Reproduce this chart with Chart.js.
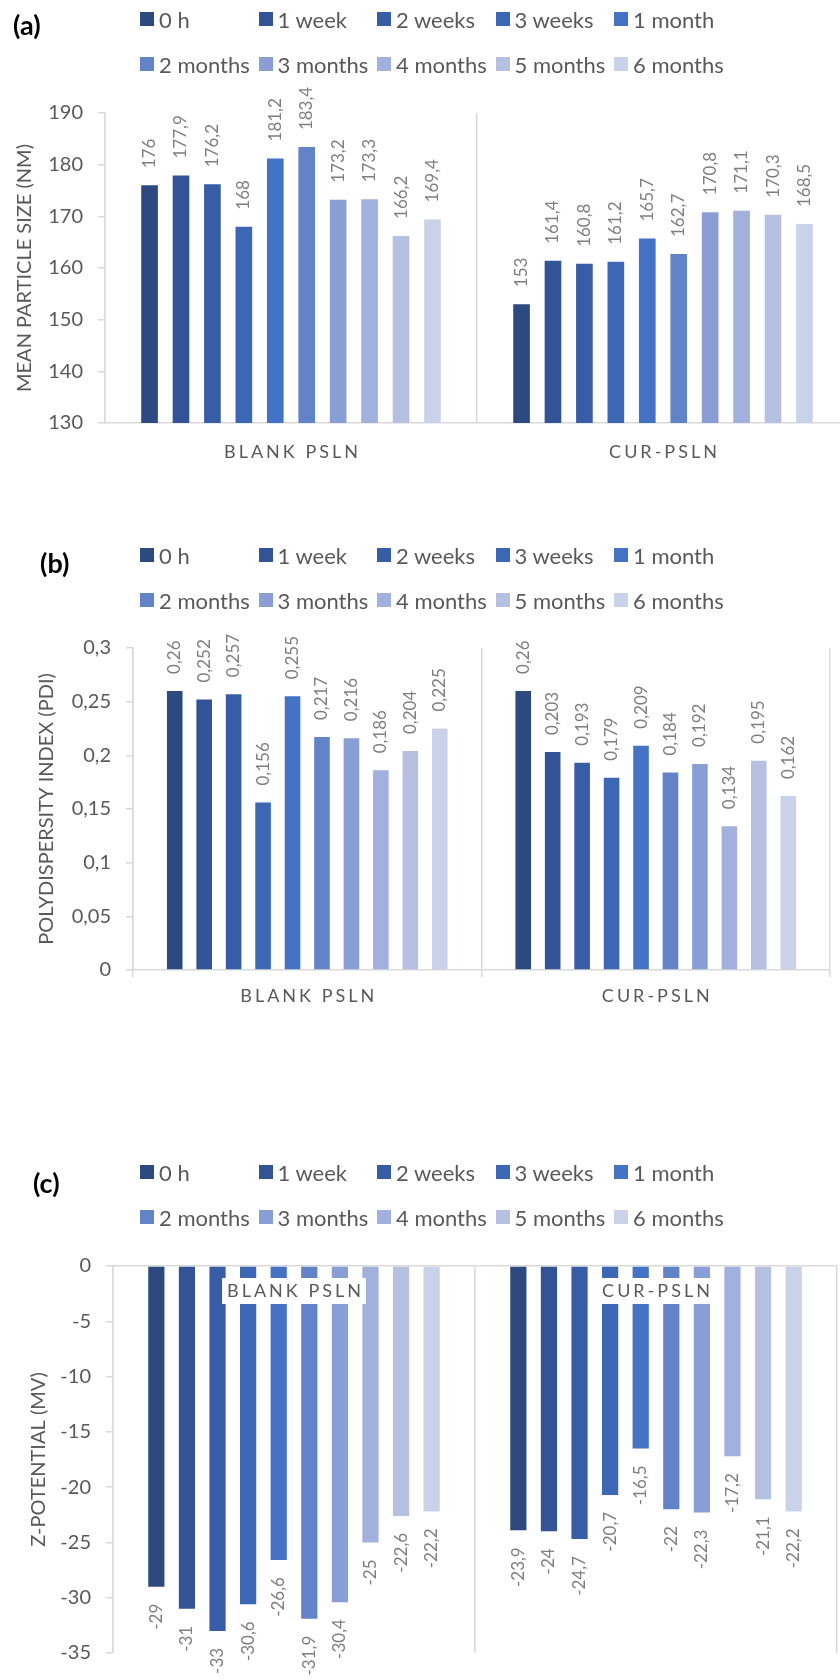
<!DOCTYPE html>
<html>
<head>
<meta charset="utf-8">
<script src="https://cdn.jsdelivr.net/npm/chart.js@4.4.1/dist/chart.umd.min.js"></script>
<style>
  html, body { margin: 0; padding: 0; background: #fff; }
  body { width: 840px; height: 1680px; position: relative; overflow: hidden; font-family: Lato, sans-serif; }
  canvas { position: absolute; left: 0; }
  .tag { position: absolute; font-weight: bold; font-size: 27px; line-height: 32px; color: #000; }
  .leg { position: absolute; display: flex; align-items: center; height: 26px; font-size: 22px; color: #595959; white-space: nowrap; }
  .leg .box { display: inline-block; width: 14px; height: 14px; margin-right: 5px; }
</style>
</head>
<body>
<canvas id="chartA" width="860" height="480" style="top:0px"></canvas>
<canvas id="chartB" width="840" height="520" style="top:500px"></canvas>
<canvas id="chartC" width="840" height="560" style="top:1120px"></canvas>
<div class="tag" style="left:13px;top:9px">(a)</div>
<div class="tag" style="left:40px;top:547px">(b)</div>
<div class="tag" style="left:33px;top:1167px">(c)</div>
<script>
const groups = ['BLANK PSLN', 'CUR-PSLN'];
const timeLabels = ['0 h', '1 week', '2 weeks', '3 weeks', '1 month', '2 months', '3 months', '4 months', '5 months', '6 months'];
const timeColors = ['#2c4a80', '#325496', '#375da6', '#3c67b5', '#4472c4', '#6383c9', '#889ed5', '#a1b0dc', '#b6c1e2', '#cad2e9'];

// mean particle size (nm)
const sizeBlank = [176, 177.9, 176.2, 168, 181.2, 183.4, 173.2, 173.3, 166.2, 169.4];
const sizeCur = [153, 161.4, 160.8, 161.2, 165.7, 162.7, 170.8, 171.1, 170.3, 168.5];
const sizeTicks = [130, 140, 150, 160, 170, 180, 190];

// polydispersity index
const pdiBlank = [0.26, 0.252, 0.257, 0.156, 0.255, 0.217, 0.216, 0.186, 0.204, 0.225];
const pdiCur = [0.26, 0.203, 0.193, 0.179, 0.209, 0.184, 0.192, 0.134, 0.195, 0.162];
const pdiTicks = [0, 0.05, 0.1, 0.15, 0.2, 0.25, 0.3];

// z-potential (mV)
const zetaBlank = [-29, -31, -33, -30.6, -26.6, -31.9, -30.4, -25, -22.6, -22.2];
const zetaCur = [-23.9, -24, -24.7, -20.7, -16.5, -22, -22.3, -17.2, -21.1, -22.2];
const zetaTicks = [-35, -30, -25, -20, -15, -10, -5, 0];

const grey = '#595959';
const lineGrey = '#d9d9d9';

function comma(v) {
  return String(v).replace('.', ',');
}

// rotated value labels at the end of each bar
const barValues = {
  id: 'barValues',
  afterDatasetsDraw(chart) {
    const ctx = chart.ctx;
    ctx.save();
    ctx.font = '17px Lato';
    ctx.fillStyle = '#7f7f7f';
    ctx.textBaseline = 'middle';
    chart.data.datasets.forEach((ds, i) => {
      chart.getDatasetMeta(i).data.forEach((bar, j) => {
        const v = ds.data[j];
        ctx.save();
        ctx.translate(bar.x, v >= 0 ? bar.y - 17 : bar.y + 17);
        ctx.rotate(-Math.PI / 2);
        ctx.textAlign = v >= 0 ? 'left' : 'right';
        ctx.fillText(comma(v), 0, 0);
        ctx.restore();
      });
    });
    ctx.restore();
  }
};

// spaced category names, optionally on a white box
const groupNames = {
  id: 'groupNames',
  afterDatasetsDraw(chart, args, opts) {
    const ctx = chart.ctx, xs = chart.scales.x, area = chart.chartArea;
    const y = opts.fromTop ? area.top + opts.offset : area.bottom + opts.offset;
    ctx.save();
    ctx.font = '18px Lato';
    ctx.letterSpacing = '3px';
    ctx.textAlign = 'left';
    ctx.textBaseline = 'middle';
    groups.forEach((g, i) => {
      const cx = xs.getPixelForValue(i);
      const w = ctx.measureText(g).width - 3;
      const x0 = cx - w / 2;
      if (opts.backdrop) {
        ctx.fillStyle = '#fff';
        ctx.fillRect(x0 - 5, y - 13, w + 10, 26);
      }
      ctx.fillStyle = grey;
      ctx.fillText(g, x0, y);
    });
    ctx.restore();
  }
};

function makeChart(id, blank, cur, ticks, yTitle, cfg) {
  return new Chart(document.getElementById(id), {
    type: 'bar',
    data: {
      labels: groups,
      datasets: timeLabels.map((t, i) => ({
        label: t,
        data: [blank[i], cur[i]],
        backgroundColor: timeColors[i],
        categoryPercentage: 0.845,
        barPercentage: 0.53
      }))
    },
    options: {
      responsive: false,
      animation: false,
      layout: { padding: cfg.pad },
      plugins: {
        legend: { display: false },
        tooltip: { enabled: false },
        groupNames: cfg.names
      },
      scales: {
        x: {
          position: cfg.xTop ? 'top' : 'bottom',
          grid: { offset: true, color: lineGrey, lineWidth: 1.5, drawTicks: !!cfg.xTicks, tickLength: 7 },
          border: { display: true, color: lineGrey, width: 1.5 },
          ticks: { display: false },
          afterFit: s => { s.height = 6; }
        },
        y: {
          min: ticks[0],
          max: ticks[ticks.length - 1],
          afterBuildTicks: s => { s.ticks = ticks.map(v => ({ value: v })); },
          grid: { drawOnChartArea: false, color: lineGrey, lineWidth: 1.5, tickLength: 7 },
          border: { display: true, color: lineGrey, width: 1.5 },
          ticks: { color: grey, font: { family: 'Lato', size: 20 }, padding: 15, callback: v => comma(v) },
          title: { display: true, text: yTitle, color: grey, font: { family: 'Lato', size: 20 }, padding: { top: cfg.titleX - 12, bottom: 0 } },
          afterFit: s => { s.width = cfg.yWidth; }
        }
      }
    },
    plugins: [barValues, groupNames]
  });
}

function addLegend(row1, row2) {
  timeLabels.forEach((t, i) => {
    const d = document.createElement('div');
    d.className = 'leg';
    d.style.left = (140 + (i % 5) * 118.5) + 'px';
    d.style.top = ((i < 5 ? row1 : row2) - 13) + 'px';
    const b = document.createElement('span');
    b.className = 'box';
    b.style.background = timeColors[i];
    d.appendChild(b);
    d.appendChild(document.createTextNode(t));
    document.body.appendChild(d);
  });
}

addLegend(19, 64);
addLegend(555, 600);
addLegend(1172, 1217);

makeChart('chartA', sizeBlank, sizeCur, sizeTicks, 'MEAN PARTICLE SIZE (NM)', {
  pad: { top: 113, right: 11, bottom: 51, left: 0 },
  yWidth: 105, titleX: 25,
  names: { offset: 29 }
});

makeChart('chartB', pdiBlank, pdiCur, pdiTicks, 'POLYDISPERSITY INDEX (PDI)', {
  pad: { top: 148, right: 10, bottom: 44, left: 0 },
  yWidth: 133, titleX: 47, xTicks: true,
  names: { offset: 26 }
});

makeChart('chartC', zetaBlank, zetaCur, zetaTicks, 'Z-POTENTIAL (MV)', {
  pad: { top: 140, right: 3, bottom: 20, left: 0 },
  yWidth: 113, titleX: 39, xTop: true,
  names: { offset: 25, fromTop: true, backdrop: true }
});
</script>
</body>
</html>
